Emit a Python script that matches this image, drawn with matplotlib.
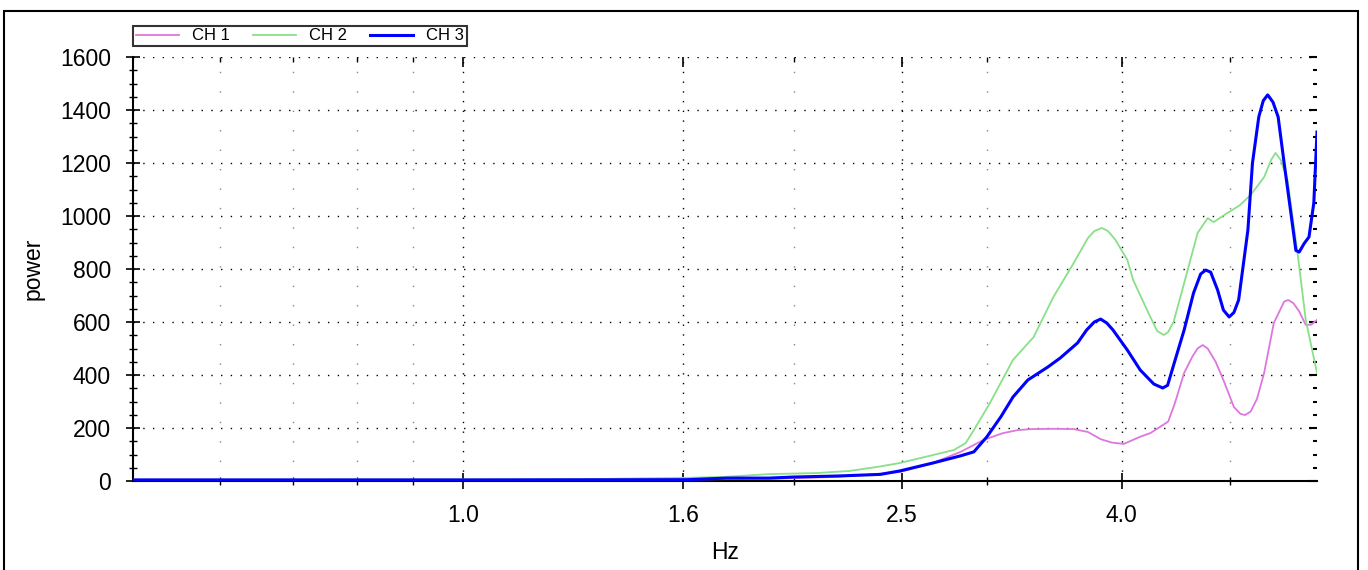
import matplotlib
matplotlib.use('Agg')
import matplotlib.pyplot as plt
from matplotlib.patches import Rectangle

W, H, DPI = 1368, 570, 100

series_names = ['CH 1', 'CH 2', 'CH 3']

ch1_hz = [0.5, 0.8, 1.2, 1.6, 1.9, 2.17, 2.35, 2.5, 2.68, 2.84, 2.98, 3.1, 3.2, 3.3,
          3.45, 3.6, 3.71, 3.81, 3.9, 4.0, 4.14, 4.23, 4.39, 4.45, 4.54, 4.62, 4.67,
          4.72, 4.77, 4.85, 4.93, 5.04, 5.11, 5.16, 5.22, 5.29, 5.37, 5.48, 5.6,
          5.65, 5.71, 5.78, 5.86, 5.93, 6.0]
ch1_power = [5, 5, 5, 6, 8, 15, 24, 34, 68, 110, 155, 180, 192, 196,
             197, 196, 185, 158, 145, 140, 167, 181, 224, 290, 408, 470, 500,
             513, 500, 450, 381, 279, 253, 249, 262, 310, 408, 596, 677,
             683, 671, 640, 589, 590, 608]

ch2_hz = [0.5, 1.0, 1.3, 1.45, 1.6, 1.74, 1.9, 2.1, 2.25, 2.4, 2.5, 2.68, 2.8,
          2.87, 2.92, 3.02, 3.17, 3.31, 3.45, 3.6, 3.71, 3.76, 3.82, 3.87, 3.93,
          4.03, 4.08, 4.2, 4.29, 4.35, 4.39, 4.44, 4.53, 4.67, 4.77, 4.83, 4.97,
          5.1, 5.22, 5.37, 5.45, 5.5, 5.56, 5.64, 5.76, 5.86, 6.0]
ch2_power = [5, 6, 7, 10, 12, 16, 26, 30, 38, 55, 68, 98, 117,
             143, 192, 294, 457, 543, 694, 822, 917, 943, 955, 943, 910,
             834, 758, 645, 566, 551, 562, 600, 732, 936, 992, 977, 1011,
             1040, 1079, 1147, 1212, 1238, 1212, 1136, 860, 608, 408]

ch3_hz = [0.5, 1.0, 1.6, 1.74, 1.9, 2.0, 2.2, 2.4, 2.5, 2.68, 2.84, 2.92, 3.0,
          3.09, 3.17, 3.27, 3.41, 3.5, 3.63, 3.7, 3.76, 3.81, 3.86, 3.91, 4.03,
          4.14, 4.26, 4.34, 4.385, 4.45, 4.54, 4.63, 4.7, 4.75, 4.8, 4.87, 4.93,
          4.99, 5.04, 5.09, 5.19, 5.24, 5.31, 5.36, 5.41, 5.47, 5.53, 5.6, 5.68,
          5.74, 5.78, 5.84, 5.9, 5.96, 6.0]
ch3_power = [4, 4, 5, 11, 11, 15, 19, 25, 38, 68, 95, 110, 166,
             242, 317, 381, 430, 464, 521, 570, 600, 611, 596, 570, 494,
             419, 366, 351, 361, 450, 570, 709, 781, 796, 788, 721, 645,
             619, 636, 683, 947, 1200, 1374, 1435, 1457, 1430, 1374, 1200, 1011,
             870, 864, 896, 921, 1049, 1317]

x_major_ticks = [1.0, 1.585, 2.512, 3.981]
x_major_labels = ['1.0', '1.6', '2.5', '4.0']
x_minor_ticks = [0.6, 0.7, 0.8, 0.9, 2.0, 3.0, 5.0]
y_major_ticks = [0, 200, 400, 600, 800, 1000, 1200, 1400, 1600]
y_minor_ticks = list(range(0, 1601, 50))

colors = ['#dd77dd', '#88e088', '#0000ff']
widths = [1.3, 1.3, 2.2]

plt.rcParams['font.family'] = ['Liberation Sans', 'DejaVu Sans']

fig = plt.figure(figsize=(W / DPI, H / DPI), dpi=DPI)
ax = fig.add_axes([133 / W, 89 / H, (1317 - 133) / W, 424 / H])
ax.set_xscale('log')
ax.set_xlim(0.5, 6.0)
ax.set_ylim(0, 1600)

lines = []
for hz, pw, c, lw, nm in zip([ch1_hz, ch2_hz, ch3_hz],
                             [ch1_power, ch2_power, ch3_power],
                             colors, widths, series_names):
    ln, = ax.plot(hz, pw, color=c, lw=lw, label=nm, zorder=3)
    lines.append(ln)

ax.set_xticks(x_major_ticks)
ax.set_xticklabels(x_major_labels)
ax.set_xticks(x_minor_ticks, minor=True)
ax.set_xticklabels([], minor=True)
ax.set_yticks(y_major_ticks)
ax.set_yticks(y_minor_ticks, minor=True)

ax.grid(True, which='major', axis='both', color='black',
        linestyle=(0, (1, 6)), linewidth=1.0)
ax.grid(True, which='minor', axis='x', color='#888888',
        linestyle=(0, (1, 13)), linewidth=1.0)
ax.grid(False, which='minor', axis='y')

for s in ['top', 'right']:
    ax.spines[s].set_visible(False)
for s in ['left', 'bottom']:
    ax.spines[s].set_linewidth(1.5)
    ax.spines[s].set_color('black')

ax.tick_params(axis='y', which='major', direction='inout', length=10, width=1.2,
               labelsize=16.5, pad=11)
ax.tick_params(axis='y', which='minor', direction='inout', length=6, width=1.0)
ax.tick_params(axis='x', which='major', direction='inout', length=11, width=1.2,
               labelsize=16.5, pad=11)
ax.tick_params(axis='x', which='minor', direction='inout', length=6, width=1.0)

secy = ax.secondary_yaxis('right')
secy.set_yticks(y_major_ticks)
secy.set_yticks(y_minor_ticks, minor=True)
secy.tick_params(which='major', direction='in', length=6, width=1.5, labelright=False)
secy.tick_params(which='minor', direction='in', length=3, width=1.5)
secy.spines['right'].set_visible(False)

secx = ax.secondary_xaxis('top')
secx.set_xticks(x_major_ticks)
secx.set_xticks(x_minor_ticks, minor=True)
secx.tick_params(which='major', direction='in', length=7, width=1.2, labeltop=False)
secx.tick_params(which='minor', direction='in', length=3.5, width=1.0, labeltop=False)
secx.spines['top'].set_visible(False)

ax.set_xlabel('Hz', fontsize=16.5, labelpad=10)
ax.set_ylabel('power', fontsize=16.5, labelpad=11)

leg = fig.legend(handles=lines, labels=series_names, loc='upper left',
                 bbox_to_anchor=(133 / W, 1 - 26 / H), ncol=3, frameon=True,
                 fancybox=False, edgecolor='black', fontsize=12,
                 handlelength=2.6, handletextpad=0.8, columnspacing=1.35,
                 borderpad=0.15, borderaxespad=0)
leg.get_frame().set_linewidth(1.5)

fig.patches.append(Rectangle((3.5 / W, -0.05), (1357.5 - 3.5) / W, (570 - 10.5) / H + 0.05,
                             transform=fig.transFigure, fill=False, lw=1.5,
                             edgecolor='black'))

fig.savefig('out.png', dpi=DPI)
